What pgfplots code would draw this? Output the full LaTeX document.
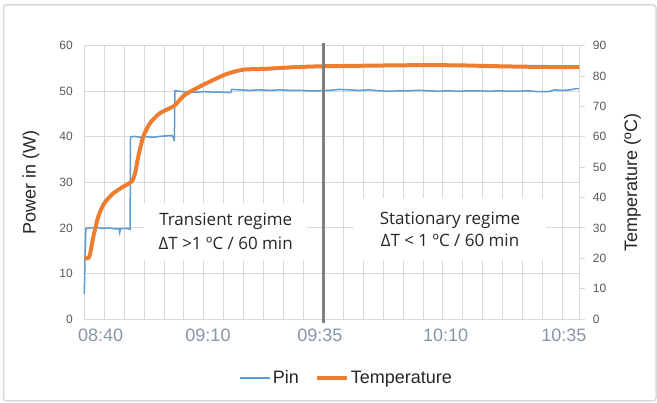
\documentclass[border=0pt]{standalone}
\usepackage{pgfplots}
\pgfplotsset{compat=1.18}
\usepackage{fontspec}
\setmainfont{Liberation Sans}
\newfontfamily\osans{Open Sans}
\definecolor{pinblue}{HTML}{5B9BD5}
\definecolor{temporange}{HTML}{ED7D31}
\definecolor{gridgray}{HTML}{D9D9D9}
\definecolor{ticktext}{HTML}{595959}
\definecolor{xticktext}{HTML}{8594AA}
\definecolor{titletext}{HTML}{262626}
\definecolor{vline}{HTML}{7F7F7F}
\definecolor{framegray}{HTML}{D9D9D9}

\pgfplotstableread{
x w
0 5.5
0.04 14
0.08 19.9
0.3 20.0
0.6 20.1
0.9 19.9
1.2 20.0
1.5 19.8
1.75 19.8
1.78 19.0
1.82 19.8
2.1 19.9
2.3 19.7
2.32 40.0
2.5 40.1
2.8 39.9
3.1 40.0
3.5 39.9
3.8 40.1
4.1 40.2
4.4 40.3
4.5 39.6
4.52 39.0
4.55 50.1
4.8 50.0
5.2 49.8
5.6 49.8
6.0 49.9
6.5 49.8
7.0 49.8
7.35 49.7
7.4 50.4
7.8 50.3
8.3 50.2
8.8 50.3
9.3 50.2
9.8 50.3
10.3 50.2
10.8 50.2
11.3 50.1
11.8 50.1
12.3 50.2
12.8 50.4
13.3 50.3
13.8 50.2
14.3 50.3
14.8 50.1
15.3 50.0
15.8 50.1
16.3 50.1
16.8 50.2
17.3 50.1
17.8 50.0
18.3 50.1
18.8 50.0
19.3 50.1
19.8 50.1
20.3 50.0
20.8 50.1
21.3 50.0
21.8 50.0
22.3 50.1
22.8 49.9
23.3 49.9
23.6 50.3
24.0 50.2
24.4 50.3
24.7 50.6
24.85 50.5
}\pindata

\pgfplotstableread{
x t
0 20.0
0.25 20.5
0.45 27
0.70 33.7
1.0 38.1
1.46 41.4
1.96 43.6
2.38 45.3
2.55 48
2.71 53.5
2.96 60.1
3.3 64.5
3.8 67.8
4.47 70
4.72 71.6
5.06 73.9
5.64 76
6.31 78.2
7.15 80.7
7.98 82.1
9.16 82.4
10.49 82.9
11.83 83.2
14 83.4
17 83.6
19 83.5
21 83.2
23 83.0
24.85 82.9
}\tempdata

\begin{document}
\begin{tikzpicture}
\path (0pt,0pt) rectangle (657pt,403pt);
\draw[framegray, line width=1.5pt, rounded corners=3pt] (3.5pt,2pt) rectangle (656pt,398pt);

\begin{axis}[
  at={(84.3pt,84pt)}, anchor=south west, scale only axis,
  width=495pt, height=273.3pt,
  xmin=0, xmax=24.85, ymin=0, ymax=60,
  clip=false,
  ytick={0,10,...,60},
  ymajorgrids,
  grid style={gridgray, line width=0.8pt},
  xtick={0.82,6.21,11.83,18.14,24.08},
  xticklabels={08:40,09:10,09:35,10:10,10:35},
  minor xtick={1,2,...,24},
  xminorgrids,
  minor grid style={gridgray, line width=0.8pt},
  major tick length=0pt, minor tick length=0pt,
  axis line style={gridgray, line width=0.8pt},
  /pgf/number format/assume math mode=true,
  yticklabel style={font=\fontsize{12}{12}\selectfont, text=ticktext, xshift=-8pt},
  xticklabel style={font=\fontsize{18}{18}\selectfont, text=xticktext, yshift=-6pt},
  ylabel={Power in (W)},
  ylabel style={at={(axis description cs:-0.1077,0.5)}, anchor=center, font=\fontsize{18}{18}\selectfont, text=titletext},
]
\addplot[pinblue, line width=1.5pt] table[x=x, y=w] {\pindata};
\end{axis}

\begin{axis}[
  at={(84.3pt,84pt)}, anchor=south west, scale only axis,
  width=495pt, height=273.3pt,
  xmin=0, xmax=24.85, ymin=0, ymax=90,
  clip=false,
  axis y line*=right, axis x line=none,
  ytick={0,10,...,90},
  major tick length=6pt, tick align=outside,
  tick style={gridgray, line width=0.8pt},
  axis line style={gridgray, line width=0.8pt},
  /pgf/number format/assume math mode=true,
  yticklabel style={font=\fontsize{12}{12}\selectfont, text=ticktext, xshift=4pt},
  ylabel={Temperature (ºC)},
  ylabel style={at={(axis description cs:1.1075,0.5)}, anchor=center, font=\fontsize{18}{18}\selectfont, text=titletext},
  legend style={at={(axis description cs:0.53,-0.216)}, anchor=center, draw=none, fill=none,
    legend columns=2, font=\fontsize{18}{18}\selectfont, text=titletext,
    /tikz/every even column/.append style={column sep=14pt}},
  legend image code/.code={\draw[#1] (0pt,0pt) -- (30pt,0pt);},
]
\addlegendimage{pinblue, line width=1.5pt}
\addlegendentry{Pin}
\addplot[temporange, line width=4pt, smooth, tension=0.4] table[x=x, y=t] {\tempdata};
\addlegendentry{Temperature}
\draw[vline, line width=3pt] (axis cs:12.03,-1.3) -- (axis cs:12.03,91);
\node[fill=white, minimum width=163pt, minimum height=57pt, align=center, inner sep=0pt,
  font=\osans\fontsize{17}{24}\selectfont, text=titletext]
  at (axis cs:7.1,28.9) {Transient regime\\ΔT >1 ºC / 60 min};
\node[fill=white, minimum width=192pt, minimum height=62pt, align=center, inner sep=0pt,
  font=\osans\fontsize{17}{22}\selectfont, text=titletext]
  at (axis cs:18.36,29.6) {Stationary regime\\ΔT < 1 ºC / 60 min};
\end{axis}
\end{tikzpicture}
\end{document}
